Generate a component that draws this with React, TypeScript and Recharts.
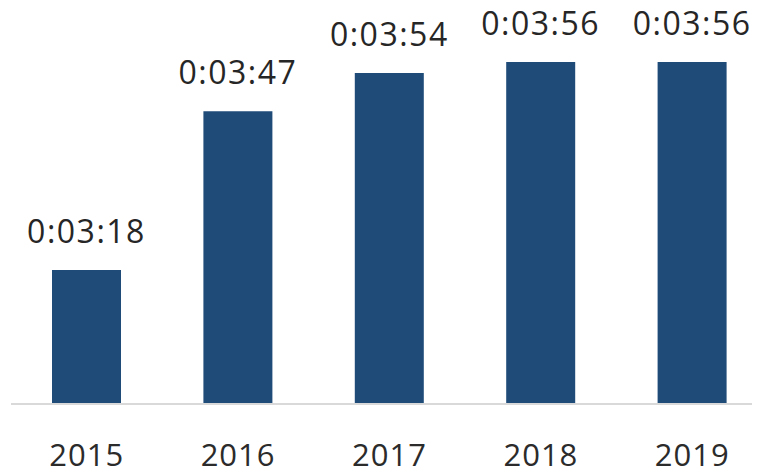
// 平均停留時間長條圖
import { BarChart, Bar, XAxis, YAxis, LabelList } from 'recharts';

const years = ['2015', '2016', '2017', '2018', '2019'];
// 秒數 (0:03:18 = 198 秒)
const durations = [198, 227, 234, 236, 236];

const chartData = years.map((year, i) => ({ year, seconds: durations[i] }));

function formatDuration(total: number) {
    const h = Math.floor(total / 3600);
    const m = Math.floor((total % 3600) / 60);
    const s = total % 60;
    return `${h}:${String(m).padStart(2, '0')}:${String(s).padStart(2, '0')}`;
}

const font = '"Open Sans", "Liberation Sans", sans-serif';

export default function App() {
    return (
        <div style={{ margin: -8, width: 760, height: 475, overflow: 'hidden', background: '#fff' }}>
            <BarChart
                width={770}
                height={475}
                data={chartData}
                margin={{ top: 62, right: 2, left: 11, bottom: 41 }}
            >
                <XAxis
                    dataKey="year"
                    stroke="#d9d9d9"
                    strokeWidth={2}
                    tickLine={false}
                    tickSize={0}
                    tickMargin={40}
                    tick={{ fill: '#2b2b2b', fontSize: 31, fontFamily: font, letterSpacing: 1 }}
                />
                <YAxis hide domain={[173.5, 236]} allowDataOverflow />
                <Bar dataKey="seconds" fill="#1F4B79" barSize={69} isAnimationActive={false}>
                    <LabelList
                        dataKey="seconds"
                        position="top"
                        offset={27}
                        formatter={(v: number) => formatDuration(v)}
                        fill="#262626"
                        fontSize={32}
                        fontFamily={font}
                        letterSpacing={1.5}
                    />
                </Bar>
            </BarChart>
        </div>
    );
}
